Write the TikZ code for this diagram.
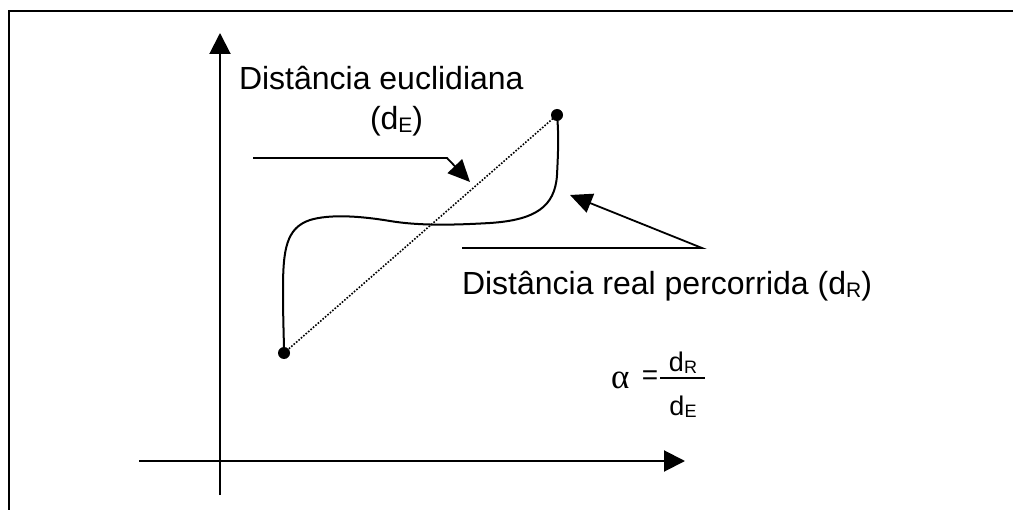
\documentclass[tikz,border=0pt]{standalone}
\usepackage{fontspec}
\setmainfont{Liberation Sans}
\newfontfamily\symf{Liberation Serif}
\usetikzlibrary{arrows.meta}
\newcommand{\sbs}[1]{\raisebox{-3bp}{\fontsize{21bp}{22bp}\selectfont #1}}
\newcommand{\sbf}[1]{\raisebox{-2bp}{\fontsize{18bp}{19bp}\selectfont #1}}
\begin{document}
\begin{tikzpicture}[x=1bp,y=-1bp,line width=2bp,
  lbl/.style={inner sep=0pt,font=\fontsize{32bp}{38bp}\selectfont},
  frac/.style={inner sep=0pt,font=\fontsize{27bp}{29bp}\selectfont},
  dotpt/.style={circle,fill=black,inner sep=0pt,minimum size=12bp},
  axisarrow/.style={-{Triangle[length=21bp,width=21bp]}},
  callout/.style={-{Triangle[length=22bp,width=20bp]},line width=1.8bp},
  dottedline/.style={line width=1.6bp,dash pattern=on 1.6bp off 1.6bp}]
\useasboundingbox (0,0) rectangle (1013,510);
% frame
\draw (1013,11) -- (9,11) -- (9,510);
% axes
\coordinate (yb) at (220,495);
\coordinate (yt) at (220,33);
\coordinate (xl) at (139,461);
\coordinate (xr) at (685,461);
\draw[axisarrow] (yb) -- (yt);
\draw[axisarrow] (xl) -- (xr);
% end points
\coordinate (A) at (284,353);
\coordinate (B) at (557,115);
\draw[dottedline] (A) -- (B);
\draw (B) .. controls (559,135) and (558,155) .. (557,175)
  .. controls (555,207) and (535,220) .. (490,223)
  .. controls (455,225) and (420,226) .. (390,221)
  .. controls (360,216) and (330,214) .. (310,220)
  .. controls (286,228) and (283,250) .. (283,290)
  .. controls (283,320) and (284,340) .. (A);
\node[dotpt] (dotA) at (A) {};
\node[dotpt] (dotB) at (B) {};
% labels
\node[lbl,anchor=base west] (eu) at (238,90) {Distância euclidiana};
\node[lbl,anchor=base west] (dE) at (369,130) {(d\sbs{E})};
\node[lbl,anchor=base west] (re) at (461,295) {Distância real percorrida (d\sbs{R})};
% callout arrows
\coordinate (a1s) at (253,158);
\coordinate (a1k) at (447,158);
\coordinate (a1t) at (470,182);
\draw[callout] (a1s) -- (a1k) -- (a1t);
\coordinate (a2s) at (462,248);
\coordinate (a2k) at (702,248);
\coordinate (a2t) at (570,195);
\draw[callout] (a2s) -- (a2k) -- (a2t);
% formula
\node[inner sep=0pt,anchor=base west,font=\symf\fontsize{35bp}{35bp}\selectfont] (al) at (610,388) {α};
\node[inner sep=0pt,font=\fontsize{28bp}{28bp}\selectfont] (eq) at (650,378) {=};
\coordinate (f1) at (660,378);
\coordinate (f2) at (705,378);
\draw[line width=1.5bp] (f1) -- (f2);
\node[frac,anchor=base] (num) at (683,372) {d\sbf{R}};
\node[frac,anchor=base] (den) at (683,415) {d\sbf{E}};
\end{tikzpicture}
\end{document}
